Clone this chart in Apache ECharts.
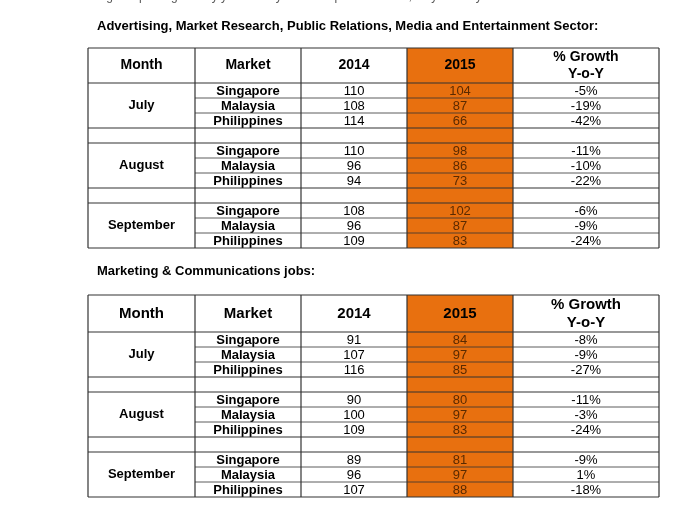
<!DOCTYPE html>
<html>
<head>
<meta charset="utf-8">
<script src="https://cdn.jsdelivr.net/npm/echarts@6/dist/echarts.min.js"></script>
<style>html,body{margin:0;padding:0;background:#fff}#main{width:700px;height:518px}</style>
</head>
<body>
<div id="main"></div>
<script>
/* job posting tables drawn with echarts graphic */
var months = ['July', 'August', 'September'];
var markets = ['Singapore', 'Malaysia', 'Philippines'];
var headers = ['Month', 'Market', '2014', '2015', '% Growth\nY-o-Y'];

var adv2014 = [110, 108, 114, 110, 96, 94, 108, 96, 109];
var adv2015 = [104, 87, 66, 98, 86, 73, 102, 87, 83];
var advGrowth = ['-5%', '-19%', '-42%', '-11%', '-10%', '-22%', '-6%', '-9%', '-24%'];

var mkt2014 = [91, 107, 116, 90, 100, 109, 89, 96, 107];
var mkt2015 = [84, 97, 85, 80, 97, 83, 81, 97, 88];
var mktGrowth = ['-8%', '-9%', '-27%', '-11%', '-3%', '-24%', '-9%', '1%', '-18%'];

var colX = [88, 195, 301, 407, 513, 659];
var orange = '#E8700F';
var font = 'Liberation Sans, Arial, sans-serif';

function buildTable(top, headBottom, rowH, spacerH, headSize, v14, v15, growth) {
  var els = [];
  var bottom = headBottom + rowH * 9 + spacerH * 2;
  // orange column
  els.push({ type: 'rect', shape: { x: colX[3], y: top, width: colX[4] - colX[3], height: bottom - top }, style: { fill: orange } });
  headers.forEach(function (h, i) {
    els.push({ type: 'text', x: (colX[i] + colX[i + 1]) / 2, y: (top + headBottom) / 2,
      style: { text: h, font: 'bold ' + headSize + 'px ' + font, fill: '#000', align: 'center', verticalAlign: 'middle', lineHeight: headSize + 3 } });
  });
  var line = function (x1, y1, x2, y2, w) {
    els.push({ type: 'line', shape: { x1: x1, y1: y1, x2: x2, y2: y2 }, style: { stroke: '#333', lineWidth: w || 1 } });
  };
  line(colX[0], top, colX[5], top, 1.2);
  line(colX[0], headBottom, colX[5], headBottom, 1.2);
  var y = headBottom;
  months.forEach(function (m, g) {
    els.push({ type: 'text', x: (colX[0] + colX[1]) / 2, y: y + rowH * 1.5,
      style: { text: m, font: 'bold 13px ' + font, fill: '#000', align: 'center', verticalAlign: 'middle' } });
    markets.forEach(function (mk, r) {
      var k = g * 3 + r;
      var cy = y + rowH * (r + 0.5);
      var cells = [mk, String(v14[k]), String(v15[k]), growth[k]];
      cells.forEach(function (c, ci) {
        els.push({ type: 'text', x: (colX[ci + 1] + colX[ci + 2]) / 2, y: cy + 1,
          style: { text: c, font: (ci === 0 ? 'bold ' : '') + '13px ' + font, fill: ci === 2 ? '#5a2a00' : '#000', align: 'center', verticalAlign: 'middle' } });
      });
      if (r < 2) line(colX[1], y + rowH * (r + 1), colX[5], y + rowH * (r + 1), 0.8);
    });
    y += rowH * 3;
    line(colX[0], y, colX[5], y, 1.2);
    if (g < 2) {
      y += spacerH;
      line(colX[0], y, colX[5], y, 1.2);
    }
  });
  colX.forEach(function (x) { line(x, top, x, bottom, 1.2); });
  return els;
}

var graphics = [
  { type: 'text', x: 97, y: -9, style: { text: 'highest posting activity year-over-year for September 2015, as year-on-year', font: '12px ' + font, fill: '#555' } },
  { type: 'text', x: 97, y: 20, style: { text: 'Advertising, Market Research, Public Relations, Media and Entertainment Sector:', font: 'bold 13px ' + font, fill: '#000' } },
  { type: 'text', x: 97, y: 265, style: { text: 'Marketing & Communications jobs:', font: 'bold 13px ' + font, fill: '#000' } }
];
graphics = graphics.concat(buildTable(48, 83, 15, 15, 14, adv2014, adv2015, advGrowth));
graphics = graphics.concat(buildTable(295, 332, 15, 15, 15, mkt2014, mkt2015, mktGrowth));

var chart = echarts.init(document.getElementById('main'));
chart.setOption({ animation: false, graphic: graphics });
</script>
</body>
</html>
